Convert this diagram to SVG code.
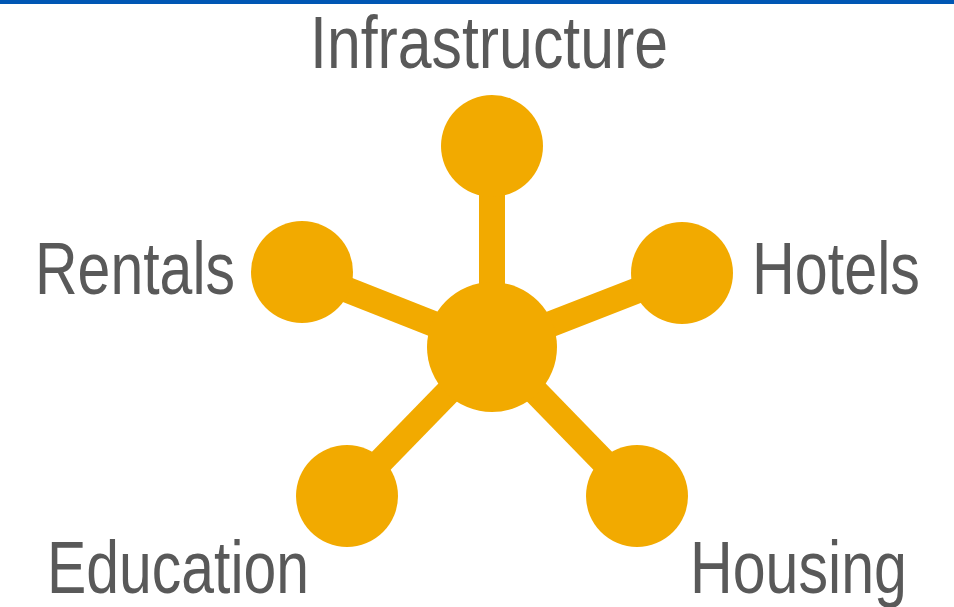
<svg xmlns="http://www.w3.org/2000/svg" width="954" height="607" viewBox="0 0 954 607">
<style>
.n{fill:#F2AA00}
.c{stroke:#F2AA00;stroke-width:26;fill:none}
.t{font-family:"Liberation Sans",Arial,sans-serif;font-size:74px;fill:#595959}
</style>
<rect x="0" y="0" width="954" height="4" fill="#0057B4"/>
<g id="connectors">
<line class="c" x1="492" y1="347" x2="492" y2="146"/>
<line class="c" x1="492" y1="347" x2="302" y2="272"/>
<line class="c" x1="492" y1="347" x2="682" y2="273"/>
<line class="c" x1="492" y1="347" x2="347" y2="496"/>
<line class="c" x1="492" y1="347" x2="637" y2="496"/>
</g>
<g id="hub"><circle class="n" cx="492" cy="347" r="65"/></g>
<g id="infrastructure"><circle class="n" cx="492" cy="146" r="51"/><text class="t" x="310" y="68" textLength="358" lengthAdjust="spacingAndGlyphs">Infrastructure</text></g>
<g id="rentals"><circle class="n" cx="302" cy="272" r="51"/><text class="t" x="35" y="294" textLength="200" lengthAdjust="spacingAndGlyphs">Rentals</text></g>
<g id="hotels"><circle class="n" cx="682" cy="273" r="51"/><text class="t" x="752" y="294" textLength="168" lengthAdjust="spacingAndGlyphs">Hotels</text></g>
<g id="education"><circle class="n" cx="347" cy="496" r="51"/><text class="t" x="47" y="593" textLength="262" lengthAdjust="spacingAndGlyphs">Education</text></g>
<g id="housing"><circle class="n" cx="637" cy="496" r="51"/><text class="t" x="690" y="593" textLength="217" lengthAdjust="spacingAndGlyphs">Housing</text></g>
</svg>
